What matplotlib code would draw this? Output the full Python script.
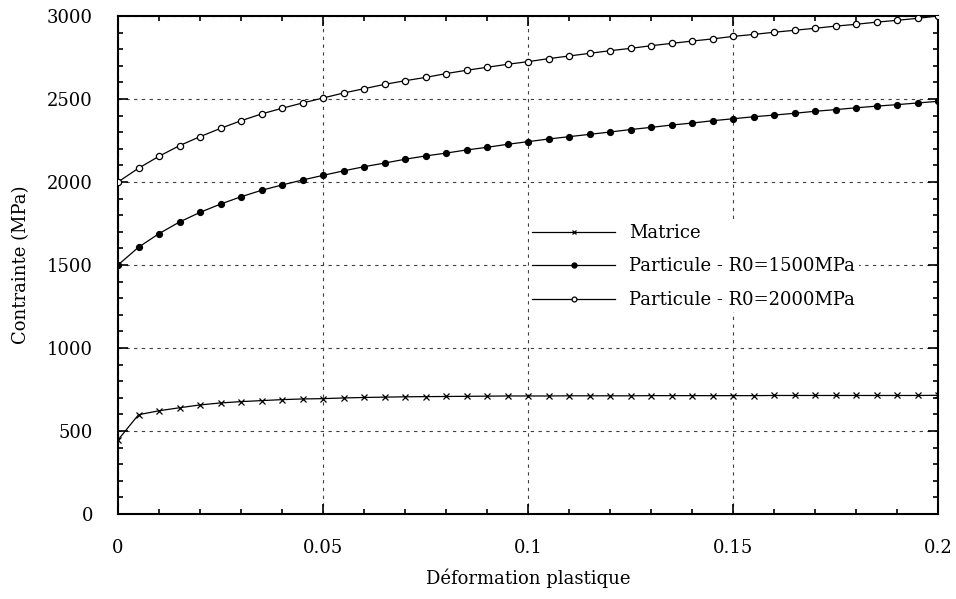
import numpy as np
import matplotlib
matplotlib.use("Agg")
import matplotlib.pyplot as plt
from matplotlib.ticker import MultipleLocator

plt.rcParams['font.family'] = ['DejaVu Serif']

strain = [round(0.005 * i, 3) for i in range(41)]

matrice = [446, 598, 622, 640, 657, 669, 677, 683, 689, 693,
           695, 699, 702, 704, 706, 707, 708, 709, 710, 711,
           711, 711, 712, 712, 712, 712, 713, 713, 713, 713,
           713, 713, 714, 714, 714, 714, 714, 714, 714, 714, 715]

particule_1500 = [1500, 1607, 1689, 1759, 1817, 1867, 1911, 1950, 1982, 2012,
                  2040, 2067, 2092, 2114, 2137, 2157, 2174, 2193, 2209, 2227,
                  2243, 2259, 2273, 2287, 2301, 2316, 2329, 2343, 2355, 2369,
                  2381, 2393, 2403, 2414, 2426, 2436, 2447, 2457, 2466, 2476, 2486]

particule_2000 = [2000, 2083, 2155, 2219, 2273, 2323, 2369, 2410, 2444, 2476,
                  2506, 2536, 2562, 2588, 2610, 2630, 2653, 2673, 2691, 2709,
                  2725, 2743, 2759, 2775, 2791, 2805, 2821, 2835, 2849, 2862,
                  2877, 2889, 2902, 2914, 2926, 2939, 2950, 2963, 2974, 2986, 3000]

labels = ["Matrice", "Particule - R0=1500MPa", "Particule - R0=2000MPa"]
xticks = [0, 0.05, 0.1, 0.15, 0.2]
xticklabels = ["0", "0.05", "0.1", "0.15", "0.2"]
yticks = [0, 500, 1000, 1500, 2000, 2500, 3000]

FS = 13

fig = plt.figure(figsize=(9.56, 5.99), dpi=100)
ax = fig.add_axes([118/956, 1 - 514/599, 820/956, 498/599])

ax.plot(strain, matrice, color='black', lw=0.9, marker='x', ms=4, mew=0.9,
        label=labels[0], zorder=3)
ax.plot(strain, particule_1500, color='black', lw=0.9, marker='o', ms=4.2,
        mfc='black', mec='black', label=labels[1], zorder=3)
ax.plot(strain, particule_2000, color='black', lw=0.9, marker='o', ms=4.5,
        mfc='white', mec='black', mew=0.9, label=labels[2], zorder=3)

ax.set_xlim(0, 0.2)
ax.set_ylim(0, 3000)
ax.set_xticks(xticks)
ax.set_xticklabels(xticklabels)
ax.set_yticks(yticks)
ax.xaxis.set_minor_locator(MultipleLocator(0.01))
ax.yaxis.set_minor_locator(MultipleLocator(100))
ax.tick_params(which='both', direction='in', top=True, right=True, width=1.2,
               labelsize=FS, colors='black')
ax.tick_params(which='major', length=7)
ax.tick_params(axis='x', which='major', pad=18)
ax.tick_params(axis='y', which='major', pad=18)
ax.tick_params(which='minor', length=3.5)
for s in ax.spines.values():
    s.set_linewidth(1.5)

ax.grid(True, which='major', color='0.25', lw=0.8, linestyle=(0, (3, 4)), zorder=1)

ax.set_xlabel("Déformation plastique", fontsize=FS, labelpad=8)
ax.set_ylabel("Contrainte (MPa)", fontsize=FS, labelpad=12)

leg = ax.legend(loc='center left', bbox_to_anchor=(0.501, 0.497), numpoints=1,
                handlelength=4.6, handletextpad=0.75, labelspacing=0.85,
                borderpad=0.2, borderaxespad=0, fontsize=FS,
                frameon=True, fancybox=False, framealpha=1, edgecolor='white')
leg.get_frame().set_linewidth(0)
for h in leg.legend_handles:
    h.set_markersize(3.5)

fig.savefig("out.png", dpi=100, facecolor='white')
